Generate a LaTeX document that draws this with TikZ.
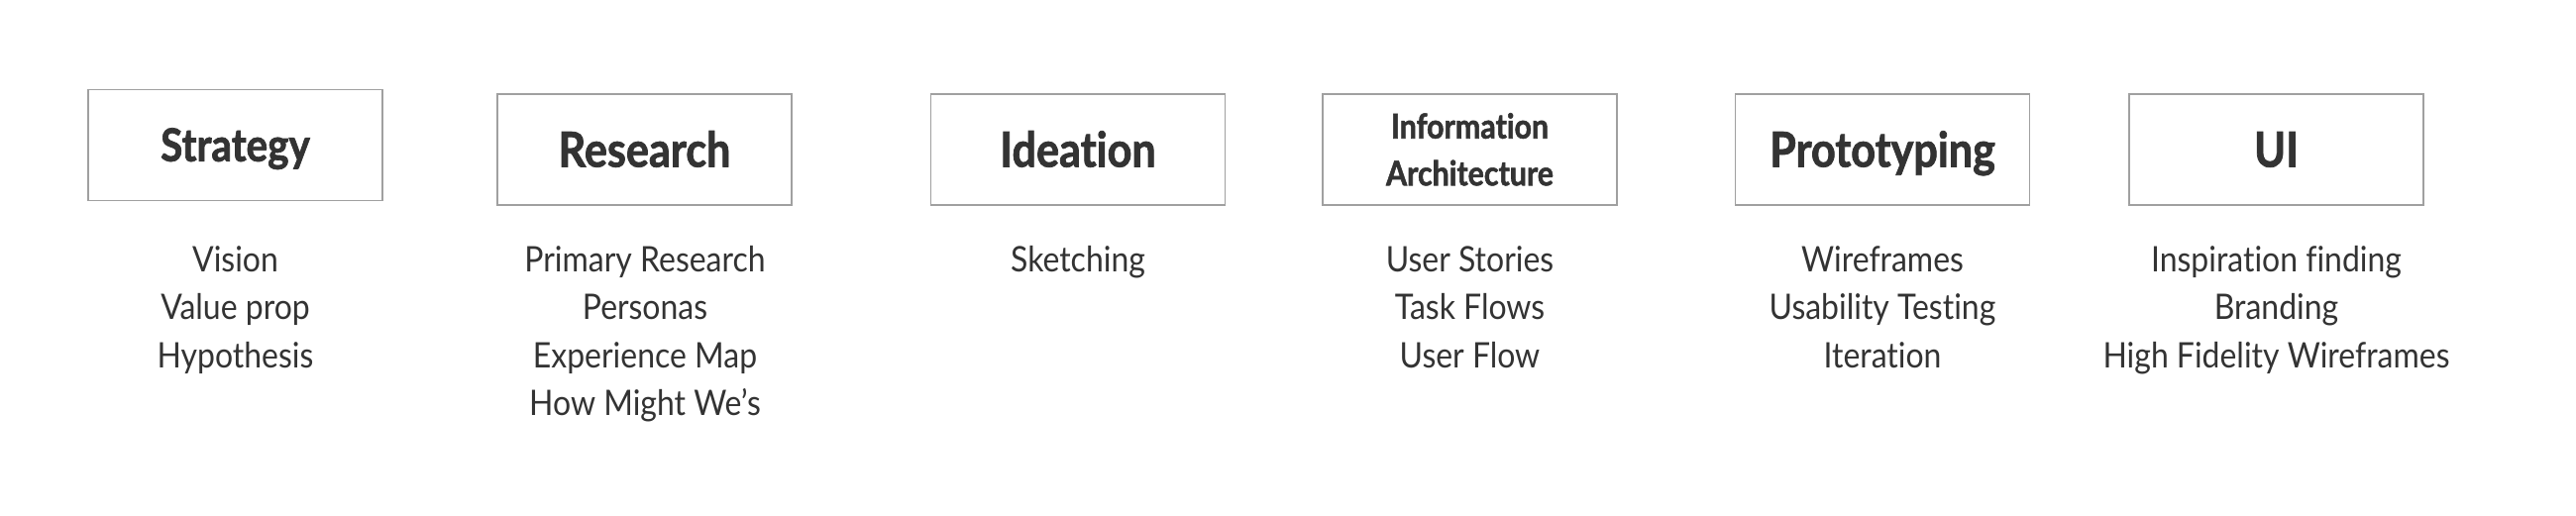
\documentclass[tikz,border=0pt]{standalone}
\usepackage{fontspec}
\setmainfont{Lato}[FakeStretch=0.9, Ligatures=NoCommon]
\newfontfamily\headfont{Lato}[FakeStretch=0.88, Ligatures=NoCommon, BoldFeatures={FakeBold=1.5}]

\definecolor{inkgray}{HTML}{333333}
\definecolor{framegray}{HTML}{A0A0A0}

\tikzstyle{stagebox}=[draw=framegray, line width=1.2pt, minimum width=297pt, minimum height=112pt, inner sep=0pt, text=inkgray, font=\headfont\bfseries\fontsize{49}{50}\selectfont, text height=35pt, text depth=0pt]
\tikzstyle{task}=[text=inkgray, font=\fontsize{35.5}{48}\selectfont, anchor=base, inner sep=0pt]

\begin{document}
\begin{tikzpicture}[x=1pt, y=1pt]
      \fill[white] (0,0) rectangle (2600,-521);
      \useasboundingbox (0,0) rectangle (2600,-521);

      \node[stagebox, font=\headfont\bfseries\fontsize{46}{48}\selectfont, text height=33pt] (strategy) at (237.5,-146.3) {Strategy};
      \node[stagebox] (research) at (650.5,-151) {Research};
      \node[stagebox] (ideation) at (1088,-151) {Ideation};
      \node[stagebox, align=center, font=\headfont\bfseries\fontsize{34.5}{47.5}\selectfont, text height=72.5pt] (infoarch) at (1483.5,-151) {Information\\Architecture};
      \node[stagebox] (prototyping) at (1900,-151) {Prototyping};
      \node[stagebox] (ui) at (2297.5,-151) {UI};

      \foreach \t [count=\i] in {Vision, Value prop, Hypothesis}
        \node[task] (strategy-\i) at (237.5,{-275-48*(\i-1)}) {\t};
      \foreach \t [count=\i] in {Primary Research, Personas, Experience Map, How Might We’s}
        \node[task] (research-\i) at (651,{-275-48*(\i-1)}) {\t};
      \foreach \t [count=\i] in {Sketching}
        \node[task] (ideation-\i) at (1088,{-275-48*(\i-1)}) {\t};
      \foreach \t [count=\i] in {User Stories, Task Flows, User Flow}
        \node[task] (infoarch-\i) at (1483.5,{-275-48*(\i-1)}) {\t};
      \foreach \t [count=\i] in {Wireframes, Usability Testing, Iteration}
        \node[task] (prototyping-\i) at (1900,{-275-48*(\i-1)}) {\t};
      \foreach \t [count=\i] in {Inspiration finding, Branding, High Fidelity Wireframes}
        \node[task] (ui-\i) at (2297.5,{-275-48*(\i-1)}) {\t};
    \end{tikzpicture}
\end{document}
